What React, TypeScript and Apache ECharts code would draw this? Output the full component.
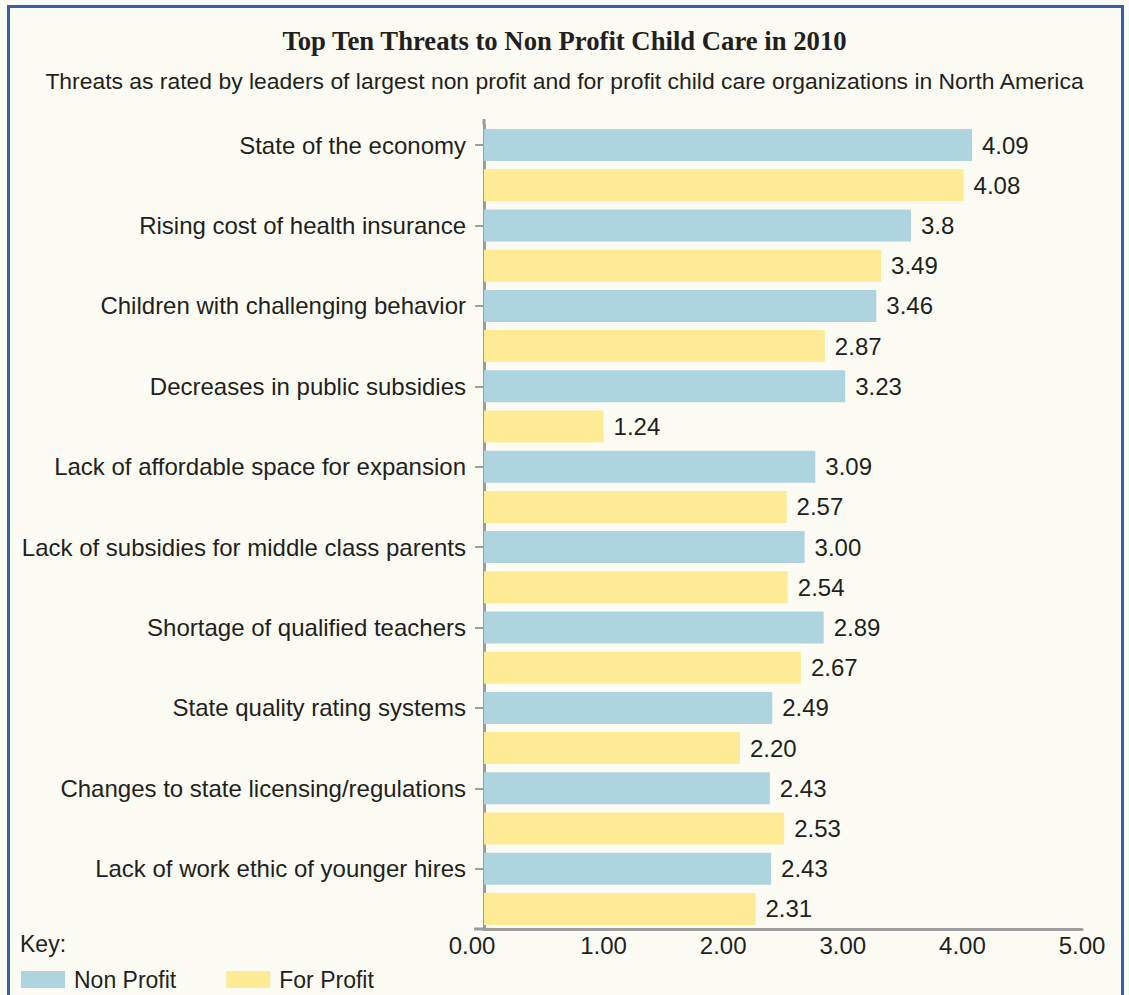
import React, { useEffect, useRef } from "react";
import * as echarts from "echarts";

const threats = [
  "State of the economy",
  "Rising cost of health insurance",
  "Children with challenging behavior",
  "Decreases in public subsidies",
  "Lack of affordable space for expansion",
  "Lack of subsidies for middle class parents",
  "Shortage of qualified teachers",
  "State quality rating systems",
  "Changes to state licensing/regulations",
  "Lack of work ethic of younger hires",
];
// bar lengths as drawn in the picture
const nonProfit = [4.08, 3.57, 3.28, 3.02, 2.77, 2.68, 2.84, 2.41, 2.39, 2.4];
const forProfit = [4.01, 3.32, 2.85, 1.0, 2.53, 2.54, 2.65, 2.14, 2.51, 2.27];
// values as printed next to the bars
const nonProfitLabels = ["4.09", "3.8", "3.46", "3.23", "3.09", "3.00", "2.89", "2.49", "2.43", "2.43"];
const forProfitLabels = ["4.08", "3.49", "2.87", "1.24", "2.57", "2.54", "2.67", "2.20", "2.53", "2.31"];
const xTicks = ["0.00", "1.00", "2.00", "3.00", "4.00", "5.00"];

const TITLE = "Top Ten Threats to Non Profit Child Care in 2010";
const SUBTITLE =
  "Threats as rated by leaders of largest non profit and for profit child care organizations in North America";

const BLUE = "#aed4df";
const YELLOW = "#ffeb96";
const TEXT = "#231f20";
const SANS = "'Liberation Sans', Arial, sans-serif";

export default function App() {
  const ref = useRef<HTMLDivElement>(null);
  useEffect(() => {
    if (!ref.current) return;
    const chart = echarts.init(ref.current, null, { renderer: "svg" });
    const slots: string[] = [];
    const npData: any[] = [];
    const fpData: any[] = [];
    threats.forEach((t, i) => {
      slots.push("np" + i);
      slots.push("fp" + i);
      npData.push(nonProfit[i], "-");
      fpData.push("-", forProfit[i]);
    });
    chart.setOption({
      animation: false,
      backgroundColor: "#fcfcf4",
      title: [
        {
          text: TITLE,
          left: "center",
          top: 22,
          textStyle: {
            fontFamily: "'Liberation Serif', 'Times New Roman', serif",
            fontWeight: "bold",
            fontSize: 26.7,
            color: TEXT,
          },
        },
        {
          text: SUBTITLE,
          left: "center",
          top: 64,
          textStyle: {
            fontFamily: SANS,
            fontWeight: "normal",
            fontSize: 22.9,
            color: TEXT,
          },
        },
      ],
      graphic: [
        {
          type: "rect",
          shape: { x: 8.5, y: 6.5, width: 1114, height: 1000 },
          style: { fill: "none", stroke: "#3a5fb0", lineWidth: 3 },
          z: 100,
        },
        {
          type: "line",
          shape: { x1: 474, y1: 929, x2: 484, y2: 929 },
          style: { stroke: "#9d9d9d", lineWidth: 3 },
        },
        {
          type: "line",
          shape: { x1: 484, y1: 119, x2: 484, y2: 125 },
          style: { stroke: "#9d9d9d", lineWidth: 3 },
        },
        {
          type: "text",
          left: 20,
          top: 932,
          style: { text: "Key:", font: "23px " + SANS, fill: TEXT },
        },
      ],
      legend: {
        left: 21,
        top: 968,
        padding: 0,
        itemWidth: 44,
        itemHeight: 17,
        itemGap: 50,
        icon: "rect",
        textStyle: { fontFamily: SANS, fontSize: 23, color: TEXT, padding: [0, 0, 0, 4] },
        data: ["Non Profit", "For Profit"],
      },
      grid: { left: 484, right: 47, top: 125, bottom: 66, containLabel: false },
      xAxis: {
        type: "value",
        min: 0,
        max: 5,
        interval: 1,
        axisLine: { show: true, lineStyle: { color: "#9d9d9d", width: 3 } },
        axisTick: { show: false },
        splitLine: { show: false },
        axisLabel: {
          fontFamily: SANS,
          fontSize: 24,
          color: TEXT,
          margin: 4,
          formatter: (v: number) => {
            const i = Math.round(v);
            return i === 0 ? "{z|" + xTicks[0] + "}" : xTicks[i];
          },
          rich: {
            z: { fontFamily: SANS, fontSize: 24, color: TEXT, padding: [0, 24, 0, 0] },
          },
        },
      },
      yAxis: {
        type: "category",
        inverse: true,
        data: slots,
        axisLine: { show: true, lineStyle: { color: "#9d9d9d", width: 3 } },
        axisTick: {
          show: true,
          alignWithLabel: true,
          length: 9,
          interval: (i: number) => i % 2 === 0,
          lineStyle: { color: "#9d9d9d", width: 2 },
        },
        axisLabel: {
          fontFamily: SANS,
          fontSize: 24,
          color: TEXT,
          margin: 18,
          interval: 0,
          formatter: (v: string) => (v.startsWith("np") ? threats[parseInt(v.slice(2), 10)] : ""),
        },
      },
      series: [
        {
          name: "Non Profit",
          type: "bar",
          data: npData,
          barWidth: 32,
          barGap: "-100%",
          itemStyle: { color: BLUE },
          label: {
            show: true,
            position: "right",
            distance: 10,
            fontFamily: SANS,
            fontSize: 24,
            color: TEXT,
            formatter: (p: any) => nonProfitLabels[Math.floor(p.dataIndex / 2)],
          },
        },
        {
          name: "For Profit",
          type: "bar",
          data: fpData,
          barWidth: 32,
          barGap: "-100%",
          itemStyle: { color: YELLOW },
          label: {
            show: true,
            position: "right",
            distance: 10,
            fontFamily: SANS,
            fontSize: 24,
            color: TEXT,
            formatter: (p: any) => forProfitLabels[Math.floor(p.dataIndex / 2)],
          },
        },
      ],
    });
    return () => chart.dispose();
  }, []);
  return (
    <div
      ref={ref}
      style={{ position: "absolute", left: 0, top: 0, width: 1129, height: 995, background: "#ffffff" }}
    />
  );
}
